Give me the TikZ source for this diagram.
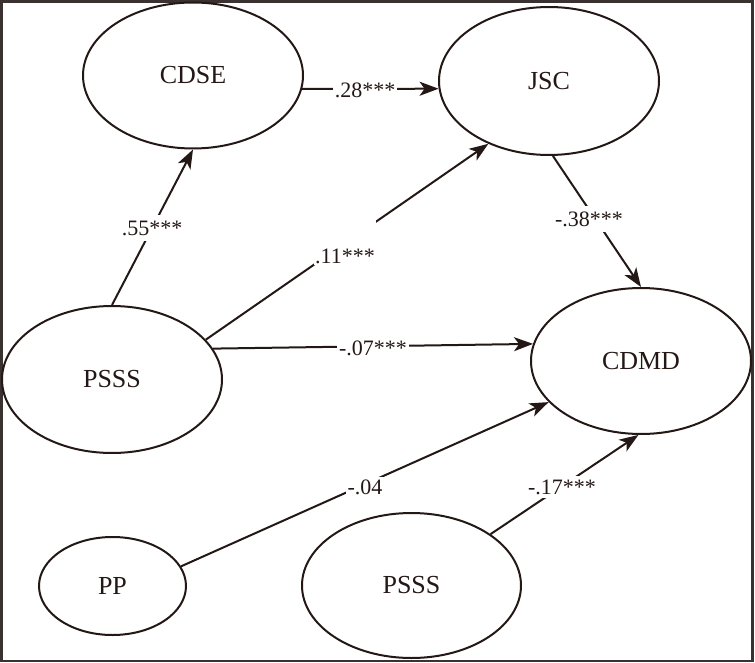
\documentclass[tikz,border=0pt]{standalone}
\usepackage{fontspec}
\setmainfont{Liberation Serif}
\usetikzlibrary{shapes.geometric,arrows.meta}
\definecolor{ink}{HTML}{231815}
\definecolor{framec}{HTML}{3A3230}
\begin{document}
\begin{tikzpicture}[x=1pt,y=-1pt,
  latent/.style={ellipse, draw=ink, line width=2pt, inner sep=0pt, minimum width=220pt, minimum height=146pt, font=\fontsize{26pt}{30pt}\selectfont, text=ink},
  smallvar/.style={latent, minimum width=147pt, minimum height=98pt},
  conn/.style={draw=ink, line width=2pt, -{Stealth[length=19pt,width=14pt,inset=5pt]}},
  lbl/.style={fill=white, inner xsep=1.5pt, inner ysep=6pt, font=\fontsize{22pt}{26pt}\selectfont, text=ink}]
\useasboundingbox (0,0) rectangle (755,663);
\draw[framec, line width=2.6pt] (1.3,1.3) rectangle (752.5,661);

\node[latent] (cdse) at (193,75.5) {CDSE};
\node[latent, minimum height=148pt] (jsc) at (549,81) {JSC};
\node[latent, minimum height=147pt] (psss1) at (112,379.5) {PSSS};
\node[latent] (cdmd) at (641,361) {CDMD};
\node[smallvar] (pp) at (112.5,586) {PP};
\node[latent, minimum width=219pt, minimum height=145pt] (psss2) at (411.5,585.5) {PSSS};

\draw[conn] (psss1.north) -- (cdse.south);
\draw[conn] (cdse.-7) -- (jsc.184);
\draw[conn] (psss1.23.5) -- (jsc.226);
\draw[conn] (psss1.17.5) -- (cdmd.171.4);
\draw[conn] (jsc.-87) -- (cdmd.north);
\draw[conn] (pp.16.8) -- (cdmd.204.7);
\draw[conn] (psss2.33.8) -- (cdmd.268);

\node[lbl] (l55) at (152,228) {.55***};
\node[lbl, inner xsep=2pt] (l28) at (365,90) {.28***};
\node[lbl, inner ysep=1pt, text height=45pt, text depth=1pt, anchor=base] (l11) at (345,263) {.11***};
\node[lbl, inner xsep=2pt] (l07) at (373,348) {-.07***};
\node[lbl, inner ysep=3pt] (l04) at (365,487) {-.04};
\node[lbl, inner ysep=4pt] (l17) at (562,487) {-.17***};
\node[lbl] (l38) at (589,219) {-.38***};
\end{tikzpicture}
\end{document}
